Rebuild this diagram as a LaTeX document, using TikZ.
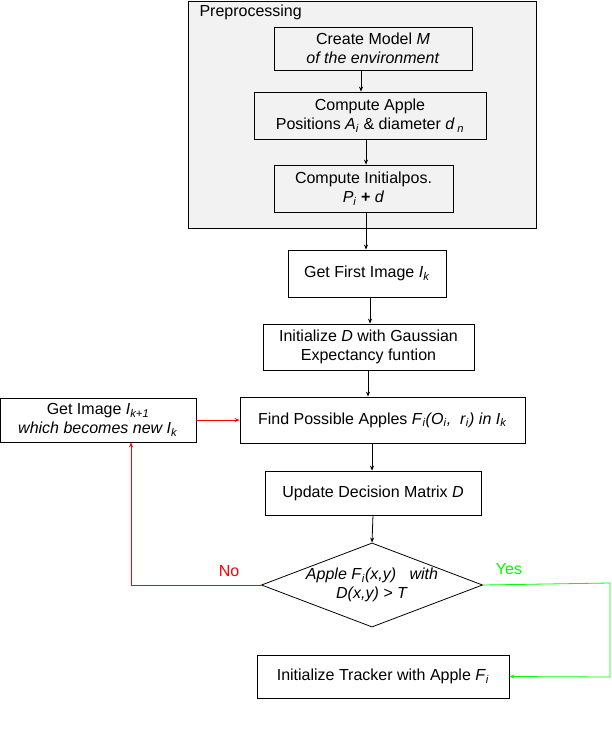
\documentclass[tikz,border=0pt]{standalone}
\usepackage{fontspec}
\setmainfont{Liberation Sans}
\usetikzlibrary{shapes.geometric,arrows.meta}
\newcommand{\vr}[1]{\textit{#1}}
\newcommand{\sbs}[1]{\textsubscript{\textit{#1}}}
\begin{document}
\begin{tikzpicture}[x=1pt,y=-1pt,
  every node/.style={font=\fontsize{16}{19}\selectfont},
  box/.style={draw,line width=0.8pt,align=center,inner sep=0pt,anchor=center},
  arr/.style={-{Stealth[length=5pt,width=4pt]},line width=0.8pt}]
\useasboundingbox (0,0) rectangle (612,734);
\node[draw,line width=0.8pt,fill=black!5,minimum width=348,minimum height=227,inner sep=0pt] (pre) at (362,114.5) {};
\node[anchor=north west] (prel) at (196,1) {Preprocessing};
\node[box,minimum width=198,minimum height=43] (cm) at (373,48.5) {Create Model \vr{M}\\\vr{of the environment}};
\node[box,minimum width=232,minimum height=47] (ca) at (370,115.5) {Compute Apple\\Positions \vr{A}\sbs{i} \& diameter \vr{d}\,\sbs{n}};
\node[box,minimum width=179,minimum height=47] (ci) at (363.5,188.5) {Compute Initialpos.\\\vr{P}\sbs{i} \textbf{+} \vr{d}};
\node[box,minimum width=158,minimum height=47] (gf) at (367,273.5) {Get First Image \vr{I}\sbs{k}};
\node[box,minimum width=211,minimum height=46] (id) at (368.5,347) {Initialize \vr{D} with Gaussian\\Expectancy funtion};
\node[box,minimum width=285,minimum height=46] (fp) at (382.5,420) {Find Possible Apples \vr{F}\sbs{i}\vr{(O}\sbs{i}\vr{, \ r}\sbs{i}\vr{) in I}\sbs{k}};
\node[box,minimum width=196,minimum height=44] (gi) at (98,420) {Get Image \vr{I}\sbs{k+1}\\\vr{which becomes new I}\sbs{k}};
\node[box,minimum width=216,minimum height=44] (up) at (373,493) {Update Decision Matrix \vr{D}};
\node[draw,line width=0.8pt,diamond,aspect=2.63,minimum width=216,minimum height=82,inner sep=0pt,align=center] (dm) at (372,585) {\vr{Apple F}\sbs{i}\vr{(x,y) \ \ with}\\\vr{D(x,y) > T}};
\node[box,minimum width=252,minimum height=43] (tr) at (383,676.5) {Initialize Tracker with Apple \vr{F}\sbs{i}};
\coordinate (a1) at (131,585);
\coordinate (g1) at (610,583);
\coordinate (g2) at (610,677);
\draw[arr] (361,70) -- (ca.north -| 361,0);
\draw[arr] (366,139) -- (ci.north -| 366,0);
\draw[arr] (366,212) -- (gf.north -| 366,0);
\draw[arr] (370,297) -- (id.north -| 370,0);
\draw[arr] (368,370) -- (fp.north -| 368,0);
\draw[arr] (372,444) -- (up.north -| 372,0);
\draw[arr] (373,515) -- (dm.north);
\draw[arr,red] (dm.west) -- (a1) -- (gi.south -| a1);
\draw[arr,red] (gi.east) -- (fp.west);
\draw[arr,green] (dm.east) -- (g1) -- (g2) -- (tr.east);
\node[red] (no) at (229,571) {No};
\node[green] (yes) at (509,569) {Yes};
\end{tikzpicture}
\end{document}
